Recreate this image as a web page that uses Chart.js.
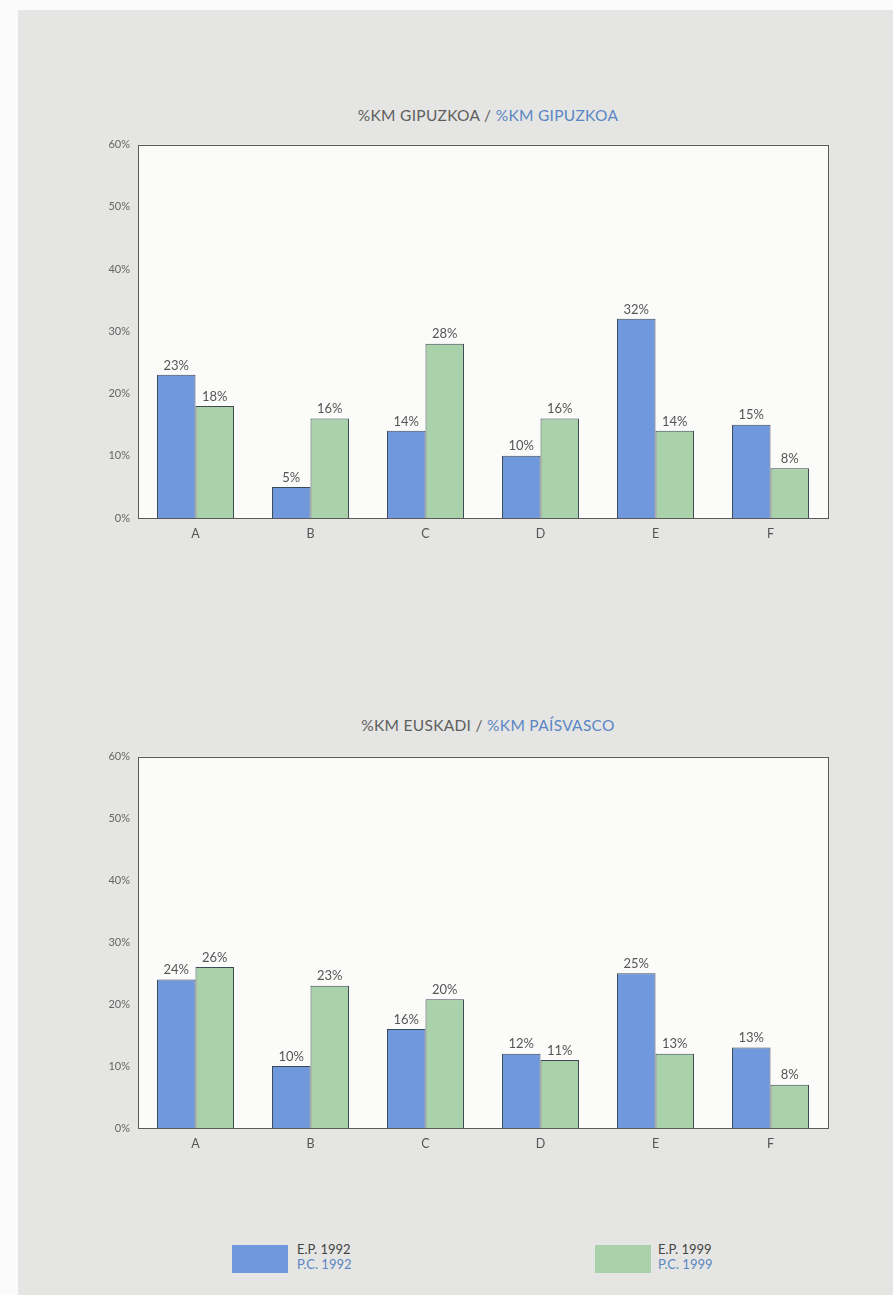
<!DOCTYPE html>
<html>
<head>
<meta charset="utf-8">
<script src="https://cdn.jsdelivr.net/npm/chart.js@4/dist/chart.umd.min.js"></script>
<style>
  html, body { margin:0; padding:0; background:#fbfbfb; }
  body { width:893px; height:1295px; position:relative; overflow:hidden; font-family:"Lato","Open Sans",sans-serif; }
  #panel { position:absolute; left:18px; top:10px; width:875px; height:1285px; background:#e5e5e3; }
  .title { position:absolute; left:138px; width:700px; text-align:center; font-size:15.5px; letter-spacing:0.3px; color:#5e5e5e; }
  .title .b { color:#5a86c4; }
  .cwrap { position:absolute; left:80px; width:760px; }
  .sw { position:absolute; width:56px; height:28px; }
  .lt { position:absolute; font-size:13px; line-height:15px; color:#444; }
  .lt .b { color:#5a86c4; }
</style>
</head>
<body>
<div id="panel"></div>
<div class="title" style="top:106px;">%KM GIPUZKOA / <span class="b">%KM GIPUZKOA</span></div>
<div class="cwrap" style="top:130px; height:418px;"><canvas id="c1" width="760" height="418"></canvas></div>
<div class="title" style="top:716px;">%KM EUSKADI / <span class="b">%KM PAÍSVASCO</span></div>
<div class="cwrap" style="top:742px; height:416px;"><canvas id="c2" width="760" height="416"></canvas></div>

<div class="sw" style="left:232px; top:1245px; background:#6f98dd;"></div>
<div class="lt" style="left:297px; top:1242px;">E.P. 1992<br><span class="b">P.C. 1992</span></div>
<div class="sw" style="left:595px; top:1245px; background:#a9d2ab;"></div>
<div class="lt" style="left:658px; top:1242px;">E.P. 1999<br><span class="b">P.C. 1999</span></div>

<script>
const categories = ['A','B','C','D','E','F'];
const yTicks = [0,10,20,30,40,50,60];
const seriesNames = ['E.P. 1992 / P.C. 1992', 'E.P. 1999 / P.C. 1999'];

// Chart 1: %KM GIPUZKOA
const gip1992 = [23, 5, 14, 10, 32, 15];
const gip1999 = [18, 16, 28, 16, 14, 8];
const gip1992Labels = ['23%','5%','14%','10%','32%','15%'];
const gip1999Labels = ['18%','16%','28%','16%','14%','8%'];

// Chart 2: %KM EUSKADI
const eus1992 = [24, 10, 16, 12, 25, 13];
const eus1999 = [26, 23, 20.8, 11, 12, 7];
const eus1992Labels = ['24%','10%','16%','12%','25%','13%'];
const eus1999Labels = ['26%','23%','20%','11%','13%','8%'];

const BLUE = '#6f98dd', GREEN = '#a9d2ab', EDGE = '#3d4a55';

const frame = {
  id: 'frame',
  beforeDraw(chart) {
    const a = chart.chartArea, ctx = chart.ctx;
    ctx.save();
    ctx.fillStyle = '#fbfbfa';
    ctx.fillRect(a.left, a.top, a.right - a.left, a.bottom - a.top);
    ctx.restore();
  },
  afterDraw(chart) {
    const a = chart.chartArea, ctx = chart.ctx;
    ctx.save();
    ctx.strokeStyle = '#5a5a5a';
    ctx.lineWidth = 1;
    ctx.strokeRect(Math.round(a.left) + 0.5, Math.round(a.top) + 0.5, Math.round(a.right - a.left), Math.round(a.bottom - a.top));
    ctx.restore();
  }
};

const valueLabels = {
  id: 'valueLabels',
  afterDatasetsDraw(chart) {
    const ctx = chart.ctx;
    ctx.save();
    ctx.font = '13px Lato, "Open Sans", sans-serif';
    ctx.fillStyle = '#555';
    ctx.textAlign = 'center';
    ctx.textBaseline = 'bottom';
    chart.data.datasets.forEach((ds, i) => {
      const meta = chart.getDatasetMeta(i);
      meta.data.forEach((bar, j) => {
        ctx.fillText(ds.valueLabels[j], bar.x, bar.y - 3);
      });
    });
    ctx.restore();
  }
};

function makeChart(id, d1, d2, l1, l2) {
  return new Chart(document.getElementById(id), {
    type: 'bar',
    data: {
      labels: categories,
      datasets: [
        { label: seriesNames[0], data: d1, valueLabels: l1, backgroundColor: BLUE, borderColor: EDGE, borderWidth: 1, borderSkipped: 'bottom' },
        { label: seriesNames[1], data: d2, valueLabels: l2, backgroundColor: GREEN, borderColor: EDGE, borderWidth: 1, borderSkipped: 'bottom' }
      ]
    },
    options: {
      responsive: false,
      animation: false,
      layout: { padding: { top: 5, right: 12, left: 0, bottom: 0 } },
      plugins: { legend: { display: false }, tooltip: { enabled: false }, title: { display: false } },
      datasets: { bar: { categoryPercentage: 0.67, barPercentage: 1.0 } },
      scales: {
        x: {
          grid: { display: false, drawTicks: false },
          border: { display: false },
          ticks: { color: '#555', font: { size: 12.5, family: 'Lato' }, padding: 8 },
          afterFit(s) { s.height = 30; }
        },
        y: {
          min: 0, max: 60,
          afterBuildTicks(s) { s.ticks = yTicks.map(v => ({ value: v })); },
          grid: { display: false, drawTicks: false },
          border: { display: false },
          ticks: { color: '#666', font: { size: 11, family: 'Lato' }, padding: 8, callback: v => v + '%' },
          afterFit(s) { s.width = 58; }
        }
      }
    },
    plugins: [frame, valueLabels]
  });
}

makeChart('c1', gip1992, gip1999, gip1992Labels, gip1999Labels);
makeChart('c2', eus1992, eus1999, eus1992Labels, eus1999Labels);
</script>
</body>
</html>
